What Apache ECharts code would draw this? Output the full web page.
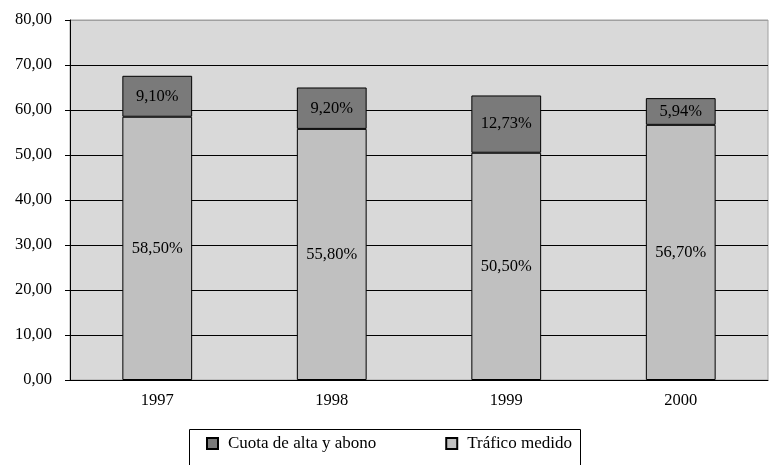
<!DOCTYPE html>
<html>
<head>
<meta charset="utf-8">
<script src="https://cdn.jsdelivr.net/npm/echarts@6/dist/echarts.min.js"></script>
<style>
  html, body { margin: 0; padding: 0; background: #fff; }
  #chart { width: 771px; height: 465px; }
</style>
</head>
<body>
<div id="chart"></div>
<script>
// datos
const years = ['1997', '1998', '1999', '2000']
const trafico = [58.5, 55.8, 50.5, 56.7]
const cuota = [9.1, 9.2, 12.73, 5.94]
const seriesNames = ['Cuota de alta y abono', 'Tráfico medido']

const font = 'Liberation Serif'
const fmt = v => v.toFixed(2).replace('.', ',')

const chart = echarts.init(document.getElementById('chart'))

// líneas de la cuadrícula: negras, la de arriba gris (borde)
const gridColors = ['#000', '#000', '#000', '#000', '#000', '#000', '#000', '#000', '#a0a0a0']

const label = {
  show: true,
  position: 'inside',
  color: '#000',
  fontFamily: font,
  fontSize: 16.5,
  formatter: p => fmt(p.value) + '%'
}

const option = {
  animation: false,
  textStyle: { fontFamily: font },
  grid: {
    left: 70, right: 3, top: 20, bottom: 85,
    show: true,
    backgroundColor: '#d9d9d9',
    borderColor: '#a0a0a0',
    borderWidth: 1
  },
  legend: {
    left: 206,
    top: 435,
    padding: 0,
    itemWidth: 11,
    itemHeight: 11,
    itemGap: 69,
    icon: 'rect',
    data: seriesNames,
    textStyle: { fontFamily: font, fontSize: 17, color: '#000', padding: [0, 0, 0, 5] }
  },
  xAxis: {
    type: 'category',
    data: years,
    axisLine: { lineStyle: { color: '#000', width: 1 } },
    axisTick: { length: 5, lineStyle: { color: '#000' } },
    axisLabel: { color: '#000', fontFamily: font, fontSize: 16.5, margin: 12 },
    splitLine: { show: false }
  },
  yAxis: {
    type: 'value',
    min: 0,
    max: 80,
    interval: 10,
    axisLine: { show: true, lineStyle: { color: '#000', width: 1 } },
    axisTick: { show: true, length: 5, lineStyle: { color: '#000' } },
    axisLabel: { color: '#000', fontFamily: font, fontSize: 16.5, margin: 18, formatter: v => fmt(v) },
    splitLine: { show: true, lineStyle: { color: gridColors, width: 1 } }
  },
  series: [
    {
      name: seriesNames[1],
      type: 'bar',
      stack: 'total',
      data: trafico,
      barWidth: '40%',
      itemStyle: { color: '#c0c0c0', borderColor: '#000', borderWidth: 1 },
      label: label
    },
    {
      name: seriesNames[0],
      type: 'bar',
      stack: 'total',
      data: cuota,
      barWidth: '40%',
      itemStyle: { color: '#7a7a7a', borderColor: '#000', borderWidth: 1 },
      label: label
    }
  ],
  graphic: [
    {
      type: 'rect',
      shape: { x: 189.5, y: 429.5, width: 391, height: 50 },
      style: { fill: 'none', stroke: '#000', lineWidth: 1 },
      z: -1
    }
  ]
}

chart.setOption(option)
</script>
</body>
</html>
